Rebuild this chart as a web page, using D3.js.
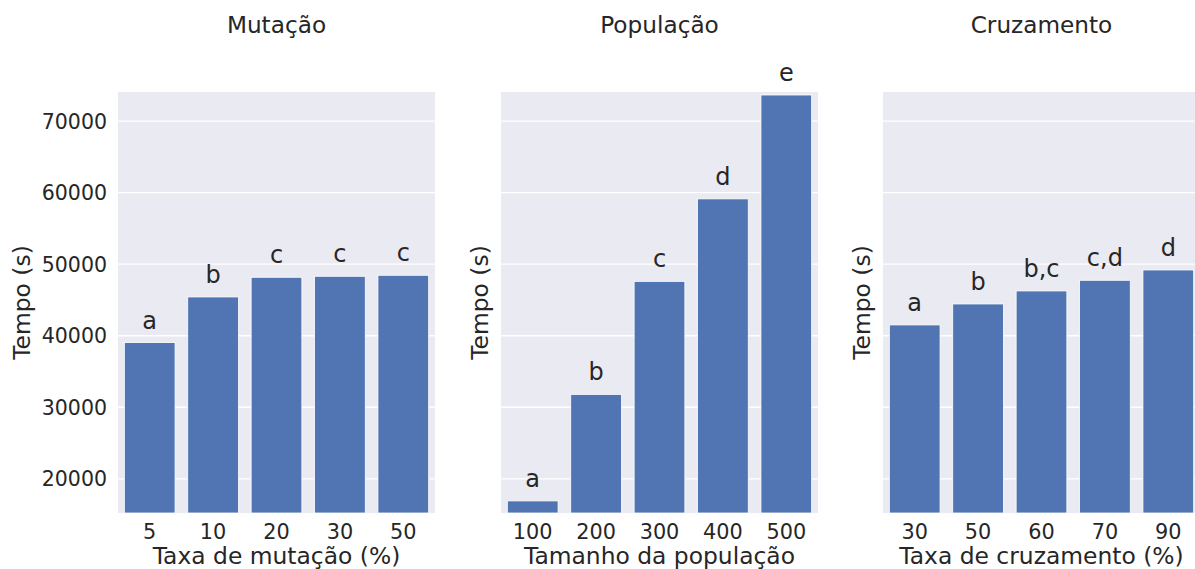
<!DOCTYPE html>
<html lang="pt">
<head>
    <meta charset="UTF-8">
    <title>Tempo por parâmetro</title>
    <script src="https://d3js.org/d3.v7.min.js"></script>
    <style>
        body {
            margin: 0;
            background: #ffffff;
            font-family: "DejaVu Sans", sans-serif;
        }
        svg text {
            fill: #262626;
        }
        .grid line {
            stroke: #ffffff;
            stroke-width: 1.3;
        }
        .grid path {
            display: none;
        }
        .axis path,
        .axis line {
            display: none;
        }
    </style>
</head>
<body>
    <div id="chart"></div>

    <script>
        // Dados
        const titles = ["Mutação", "População", "Cruzamento"];
        const xLabels = ["Taxa de mutação (%)", "Tamanho da população", "Taxa de cruzamento (%)"];

        const mutacaoCats = ["5", "10", "20", "30", "50"];
        const mutacaoVals = [38970, 45350, 48100, 48240, 48380];
        const mutacaoLetras = ["a", "b", "c", "c", "c"];

        const populacaoCats = ["100", "200", "300", "400", "500"];
        const populacaoVals = [16840, 31730, 47530, 59060, 73580];
        const populacaoLetras = ["a", "b", "c", "d", "e"];

        const cruzamentoCats = ["30", "50", "60", "70", "90"];
        const cruzamentoVals = [41440, 44370, 46190, 47680, 49120];
        const cruzamentoLetras = ["a", "b", "b,c", "c,d", "d"];

        const yTicks = [20000, 30000, 40000, 50000, 60000, 70000];
        const yDomain = [15150, 74000];

        const panels = [
            { cats: mutacaoCats, vals: mutacaoVals, letras: mutacaoLetras },
            { cats: populacaoCats, vals: populacaoVals, letras: populacaoLetras },
            { cats: cruzamentoCats, vals: cruzamentoVals, letras: cruzamentoLetras }
        ];

        const width = 1195, height = 569;
        const panelLeft = [118, 501, 883];
        const panelW = 317;
        const plotTop = 92, plotBottom = 513;
        const barColor = "#5175b3";

        const svg = d3.select("#chart").append("svg")
            .attr("width", width)
            .attr("height", height);

        const y = d3.scaleLinear()
            .domain(yDomain)
            .range([plotBottom, plotTop]);

        panels.forEach((p, i) => {
            const g = svg.append("g").attr("transform", `translate(${panelLeft[i]},0)`);

            const x = d3.scaleBand()
                .domain(p.cats)
                .range([0, panelW])
                .paddingInner(0.2)
                .paddingOuter(0.1);

            // fundo
            g.append("rect")
                .attr("x", 0)
                .attr("y", plotTop)
                .attr("width", panelW)
                .attr("height", plotBottom - plotTop)
                .attr("fill", "#eaeaf2");

            // grade horizontal
            g.append("g")
                .attr("class", "grid")
                .call(d3.axisLeft(y).tickValues(yTicks).tickSize(-panelW).tickFormat(""));

            // barras
            g.selectAll(".bar")
                .data(p.vals)
                .enter()
                .append("rect")
                .attr("class", "bar")
                .attr("x", (d, j) => x(p.cats[j]))
                .attr("y", d => y(d))
                .attr("width", x.bandwidth())
                .attr("height", d => plotBottom - y(d))
                .attr("fill", barColor)
                .attr("stroke", "#ffffff")
                .attr("stroke-width", 0.8);

            // letras
            g.selectAll(".letra")
                .data(p.vals)
                .enter()
                .append("text")
                .attr("class", "letra")
                .attr("x", (d, j) => x(p.cats[j]) + x.bandwidth() / 2)
                .attr("y", d => y(d) - 14)
                .attr("text-anchor", "middle")
                .style("font-size", "24px")
                .text((d, j) => p.letras[j]);

            // eixo x
            const xAxis = g.append("g")
                .attr("class", "axis")
                .attr("transform", `translate(0,${plotBottom})`)
                .call(d3.axisBottom(x).tickSize(0).tickPadding(0));
            xAxis.selectAll("text")
                .attr("dy", null)
                .attr("y", 26)
                .style("font-size", "20.8px")
                .style("font-family", "DejaVu Sans");

            // eixo y (só o primeiro painel tem rótulos)
            if (i === 0) {
                const yAxis = g.append("g")
                    .attr("class", "axis")
                    .call(d3.axisLeft(y).tickValues(yTicks).tickSize(0).tickPadding(11).tickFormat(d3.format("d")));
                yAxis.selectAll("text")
                    .attr("dy", "0.36em")
                    .style("font-size", "20.5px")
                    .style("font-family", "DejaVu Sans");
            }

            // título
            g.append("text")
                .attr("x", panelW / 2)
                .attr("y", 33)
                .attr("text-anchor", "middle")
                .style("font-size", "23.2px")
                .text(titles[i]);

            // rótulo x
            g.append("text")
                .attr("x", panelW / 2)
                .attr("y", 564)
                .attr("text-anchor", "middle")
                .style("font-size", "23.4px")
                .text(xLabels[i]);

            // rótulo y
            const yLabX = i === 0 ? -88 : -13;
            g.append("text")
                .attr("transform", `translate(${yLabX},${(plotTop + plotBottom) / 2}) rotate(-90)`)
                .attr("text-anchor", "middle")
                .style("font-size", "23.4px")
                .text("Tempo (s)");
        });
    </script>
</body>
</html>
